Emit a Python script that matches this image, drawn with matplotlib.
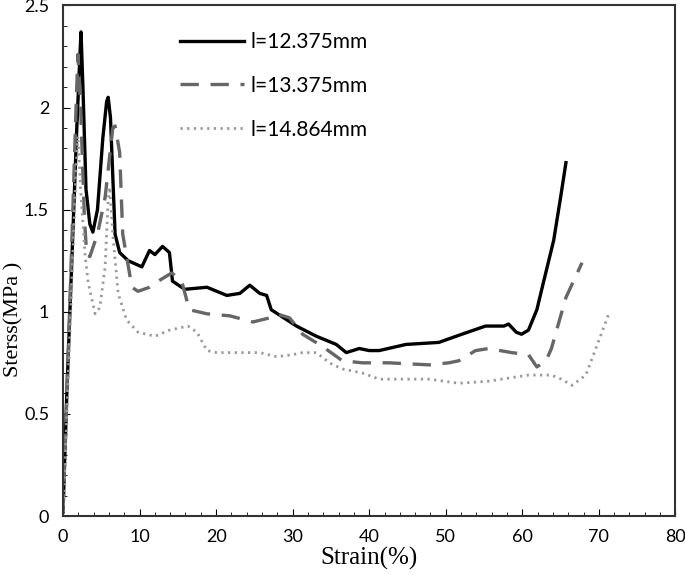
import matplotlib.pyplot as plt

# l = 12.375 mm (solid)
x1 = [0, 0.5, 1.2, 1.8, 2.2, 2.35, 2.6, 3.0, 3.5, 3.9, 4.5, 5.2, 5.7, 5.9, 6.2, 6.8,
      7.4, 8.5, 10.3, 11.3, 12.0, 13.0, 13.9, 14.3, 15.9, 18.8, 21.4, 23.1, 24.4, 25.7,
      26.6, 27.2, 30.5, 33.1, 35.7, 37.0, 38.7, 40.0, 41.3, 44.8, 49.1, 52.1, 55.2,
      57.6, 58.2, 59.2, 59.9, 60.8, 61.9, 62.8, 64.1, 65.0, 65.7]
y1 = [0.02, 0.6, 1.3, 1.9, 2.25, 2.37, 2.1, 1.6, 1.43, 1.39, 1.5, 1.85, 2.03, 2.05, 1.95, 1.38,
      1.29, 1.25, 1.22, 1.30, 1.28, 1.32, 1.29, 1.15, 1.11, 1.12, 1.08, 1.09, 1.13, 1.09,
      1.08, 1.01, 0.93, 0.88, 0.84, 0.80, 0.82, 0.81, 0.81, 0.84, 0.85, 0.89, 0.93,
      0.93, 0.94, 0.90, 0.89, 0.91, 1.01, 1.15, 1.35, 1.56, 1.73]

# l = 13.375 mm (dashed)
x2 = [0, 0.5, 1.2, 1.7, 1.95, 2.3, 2.8, 3.1, 3.5, 4.5, 5.5, 6.5, 6.8, 7.4, 7.8, 9.0, 9.8,
      11.3, 12.0, 14.2, 15.5, 16.5, 18.8, 21.8, 24.8, 27.0, 27.9, 29.6, 31.3, 33.9,
      36.5, 39.1, 42.6, 47.8, 50.4, 51.7, 53.9, 55.6, 58.6, 60.8, 61.9, 63.1, 63.8,
      65.7, 67.8]
y2 = [0.02, 0.6, 1.4, 2.0, 2.26, 2.0, 1.45, 1.28, 1.27, 1.38, 1.56, 1.90, 1.91, 1.78, 1.38,
      1.12, 1.10, 1.12, 1.14, 1.19, 1.15, 1.01, 0.99, 0.98, 0.95, 0.97, 0.99, 0.97, 0.89,
      0.83, 0.76, 0.75, 0.75, 0.74, 0.75, 0.76, 0.81, 0.82, 0.80, 0.79, 0.73, 0.76,
      0.82, 1.07, 1.24]

# l = 14.864 mm (dotted)
x3 = [0, 0.5, 1.2, 1.7, 1.95, 2.3, 2.9, 3.3, 4.2, 4.8, 5.5, 5.9, 6.1, 6.5, 7.2, 8.3, 9.8,
      12.0, 13.9, 16.3, 17.5, 18.8, 20.1, 25.7, 27.9, 30.0, 31.3, 33.1, 34.8, 36.5,
      39.1, 41.3, 47.8, 51.7, 55.6, 60.8, 63.8, 65.1, 66.5, 68.3, 71.3]
y3 = [0.02, 0.5, 1.2, 1.7, 1.86, 1.6, 1.27, 1.14, 0.99, 1.02, 1.22, 1.55, 1.61, 1.38, 1.09,
      0.96, 0.90, 0.88, 0.91, 0.93, 0.90, 0.81, 0.80, 0.80, 0.78, 0.79, 0.80, 0.80,
      0.75, 0.72, 0.70, 0.67, 0.67, 0.65, 0.66, 0.69, 0.69, 0.67, 0.64, 0.69, 0.99]

labels = ['l=12.375mm', 'l=13.375mm', 'l=14.864mm']

fig = plt.figure(figsize=(6.85, 5.75), dpi=100)
ax = fig.add_axes([0.092, 0.1026, 0.894, 0.888])

ax.plot(x1, y1, color='black', lw=2.4, label=labels[0])
ax.plot(x2, y2, color='#666666', lw=2.4, dashes=(5.5, 3.5), label=labels[1])
ax.plot(x3, y3, color='#999999', lw=2.0, dashes=(0.8, 1.6), label=labels[2])

ax.set_xlim(0, 80)
ax.set_ylim(0, 2.5)
ax.set_xticks(range(0, 81, 10))
ax.set_yticks([0, 0.5, 1, 1.5, 2, 2.5])
ax.set_yticklabels(['0', '0.5', '1', '1.5', '2', '2.5'])
ax.set_xticks(range(0, 81, 2), minor=True)
ax.set_yticks([i / 10 for i in range(26)], minor=True)
ax.tick_params(which='both', direction='in', top=False, right=False, labelsize=13)
ax.tick_params(which='major', length=5)
ax.tick_params(which='minor', length=3)
ax.tick_params(axis='x', which='major', pad=9)
ax.tick_params(axis='y', which='major', pad=10)
for lab in ax.get_xticklabels() + ax.get_yticklabels():
    lab.set_family('Lato')

for s in ax.spines.values():
    s.set_linewidth(1.5)
    s.set_color('#333333')

ax.set_xlabel('Strain(%)', family='Liberation Serif', fontsize=18, labelpad=2)
ax.set_ylabel('Sterss(MPa )', family='Liberation Serif', fontsize=16)
ax.yaxis.set_label_coords(-0.064, 0.385)

leg = ax.legend(loc='upper left', bbox_to_anchor=(0.16, 0.985), frameon=False,
                handlelength=3.1, handletextpad=0.3, labelspacing=1.15,
                prop={'family': 'Lato', 'size': 15})

fig.savefig('out.png', dpi=100)
